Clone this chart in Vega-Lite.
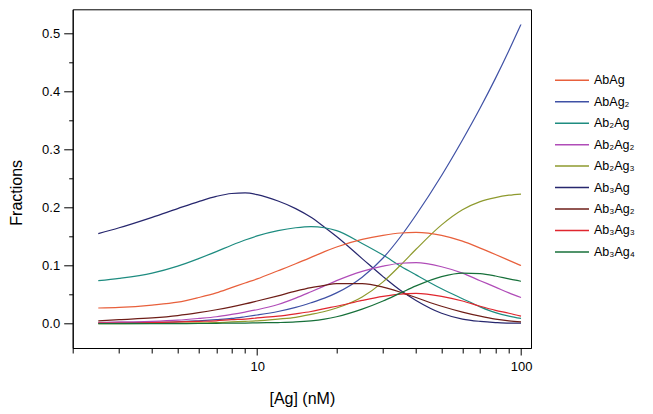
{
"$schema": "https://vega.github.io/schema/vega-lite/v6.json",
"width": 458.3, "height": 338.7,
"autosize": "none",
"padding": {"left": 72.7, "top": 9.3, "right": 122, "bottom": 66},
"background": "white",
"config": {
 "font": "Liberation Sans",
 "view": {"stroke": "black", "strokeWidth": 1},
 "axis": {"domainColor": "black", "tickColor": "black", "labelColor": "black", "titleColor": "black", "grid": false, "labelFontSize": 13, "titleFontSize": 16, "titleFontWeight": "normal", "domainWidth": 1, "tickWidth": 1}
},
"data": {"values": [
{"s":"Ab₃Ag","x":2.5,"y":0.155},{"s":"Ab₃Ag","x":3,"y":0.165},{"s":"Ab₃Ag","x":4,"y":0.183},{"s":"Ab₃Ag","x":5,"y":0.198},{"s":"Ab₃Ag","x":6,"y":0.210},{"s":"Ab₃Ag","x":7,"y":0.219},{"s":"Ab₃Ag","x":8,"y":0.224},{"s":"Ab₃Ag","x":9,"y":0.225},{"s":"Ab₃Ag","x":10,"y":0.222},{"s":"Ab₃Ag","x":12,"y":0.211},{"s":"Ab₃Ag","x":14,"y":0.198},{"s":"Ab₃Ag","x":16,"y":0.183},{"s":"Ab₃Ag","x":18,"y":0.166},{"s":"Ab₃Ag","x":20,"y":0.150},{"s":"Ab₃Ag","x":25,"y":0.112},{"s":"Ab₃Ag","x":30,"y":0.081},{"s":"Ab₃Ag","x":35,"y":0.057},{"s":"Ab₃Ag","x":40,"y":0.040},{"s":"Ab₃Ag","x":50,"y":0.018},{"s":"Ab₃Ag","x":60,"y":0.008},{"s":"Ab₃Ag","x":70,"y":0.004},{"s":"Ab₃Ag","x":80,"y":0.002},{"s":"Ab₃Ag","x":90,"y":0.001},{"s":"Ab₃Ag","x":100,"y":0.001},
{"s":"Ab₂Ag","x":2.5,"y":0.074},{"s":"Ab₂Ag","x":3,"y":0.078},{"s":"Ab₂Ag","x":4,"y":0.087},{"s":"Ab₂Ag","x":5,"y":0.099},{"s":"Ab₂Ag","x":6,"y":0.112},{"s":"Ab₂Ag","x":7,"y":0.124},{"s":"Ab₂Ag","x":8,"y":0.135},{"s":"Ab₂Ag","x":9,"y":0.144},{"s":"Ab₂Ag","x":10,"y":0.151},{"s":"Ab₂Ag","x":12,"y":0.160},{"s":"Ab₂Ag","x":14,"y":0.165},{"s":"Ab₂Ag","x":16,"y":0.167},{"s":"Ab₂Ag","x":18,"y":0.165},{"s":"Ab₂Ag","x":20,"y":0.160},{"s":"Ab₂Ag","x":25,"y":0.138},{"s":"Ab₂Ag","x":30,"y":0.118},{"s":"Ab₂Ag","x":35,"y":0.099},{"s":"Ab₂Ag","x":40,"y":0.084},{"s":"Ab₂Ag","x":50,"y":0.060},{"s":"Ab₂Ag","x":60,"y":0.043},{"s":"Ab₂Ag","x":70,"y":0.029},{"s":"Ab₂Ag","x":80,"y":0.019},{"s":"Ab₂Ag","x":90,"y":0.013},{"s":"Ab₂Ag","x":100,"y":0.009},
{"s":"AbAg₂","x":2.5,"y":0.001},{"s":"AbAg₂","x":3,"y":0.0015},{"s":"AbAg₂","x":4,"y":0.002},{"s":"AbAg₂","x":5,"y":0.003},{"s":"AbAg₂","x":6,"y":0.005},{"s":"AbAg₂","x":7,"y":0.007},{"s":"AbAg₂","x":8,"y":0.009},{"s":"AbAg₂","x":9,"y":0.012},{"s":"AbAg₂","x":10,"y":0.015},{"s":"AbAg₂","x":12,"y":0.021},{"s":"AbAg₂","x":14,"y":0.028},{"s":"AbAg₂","x":16,"y":0.036},{"s":"AbAg₂","x":18,"y":0.044},{"s":"AbAg₂","x":20,"y":0.053},{"s":"AbAg₂","x":25,"y":0.080},{"s":"AbAg₂","x":30,"y":0.113},{"s":"AbAg₂","x":35,"y":0.150},{"s":"AbAg₂","x":40,"y":0.187},{"s":"AbAg₂","x":50,"y":0.255},{"s":"AbAg₂","x":60,"y":0.316},{"s":"AbAg₂","x":70,"y":0.371},{"s":"AbAg₂","x":80,"y":0.422},{"s":"AbAg₂","x":90,"y":0.470},{"s":"AbAg₂","x":100,"y":0.515},
{"s":"Ab₂Ag₃","x":2.5,"y":0.0},{"s":"Ab₂Ag₃","x":3,"y":0.0},{"s":"Ab₂Ag₃","x":4,"y":0.0005},{"s":"Ab₂Ag₃","x":5,"y":0.001},{"s":"Ab₂Ag₃","x":6,"y":0.0015},{"s":"Ab₂Ag₃","x":7,"y":0.002},{"s":"Ab₂Ag₃","x":8,"y":0.003},{"s":"Ab₂Ag₃","x":9,"y":0.004},{"s":"Ab₂Ag₃","x":10,"y":0.005},{"s":"Ab₂Ag₃","x":12,"y":0.008},{"s":"Ab₂Ag₃","x":14,"y":0.011},{"s":"Ab₂Ag₃","x":16,"y":0.016},{"s":"Ab₂Ag₃","x":18,"y":0.021},{"s":"Ab₂Ag₃","x":20,"y":0.027},{"s":"Ab₂Ag₃","x":25,"y":0.046},{"s":"Ab₂Ag₃","x":30,"y":0.072},{"s":"Ab₂Ag₃","x":35,"y":0.101},{"s":"Ab₂Ag₃","x":40,"y":0.128},{"s":"Ab₂Ag₃","x":50,"y":0.170},{"s":"Ab₂Ag₃","x":60,"y":0.196},{"s":"Ab₂Ag₃","x":70,"y":0.210},{"s":"Ab₂Ag₃","x":80,"y":0.217},{"s":"Ab₂Ag₃","x":90,"y":0.221},{"s":"Ab₂Ag₃","x":100,"y":0.223},
{"s":"AbAg","x":2.5,"y":0.027},{"s":"AbAg","x":3,"y":0.028},{"s":"AbAg","x":4,"y":0.032},{"s":"AbAg","x":5,"y":0.037},{"s":"AbAg","x":6,"y":0.045},{"s":"AbAg","x":7,"y":0.053},{"s":"AbAg","x":8,"y":0.062},{"s":"AbAg","x":9,"y":0.070},{"s":"AbAg","x":10,"y":0.077},{"s":"AbAg","x":12,"y":0.091},{"s":"AbAg","x":14,"y":0.103},{"s":"AbAg","x":16,"y":0.114},{"s":"AbAg","x":18,"y":0.124},{"s":"AbAg","x":20,"y":0.132},{"s":"AbAg","x":25,"y":0.145},{"s":"AbAg","x":30,"y":0.152},{"s":"AbAg","x":35,"y":0.156},{"s":"AbAg","x":40,"y":0.157},{"s":"AbAg","x":50,"y":0.152},{"s":"AbAg","x":60,"y":0.142},{"s":"AbAg","x":70,"y":0.130},{"s":"AbAg","x":80,"y":0.119},{"s":"AbAg","x":90,"y":0.109},{"s":"AbAg","x":100,"y":0.100},
{"s":"Ab₂Ag₂","x":2.5,"y":0.002},{"s":"Ab₂Ag₂","x":3,"y":0.003},{"s":"Ab₂Ag₂","x":4,"y":0.004},{"s":"Ab₂Ag₂","x":5,"y":0.006},{"s":"Ab₂Ag₂","x":6,"y":0.009},{"s":"Ab₂Ag₂","x":7,"y":0.012},{"s":"Ab₂Ag₂","x":8,"y":0.016},{"s":"Ab₂Ag₂","x":9,"y":0.020},{"s":"Ab₂Ag₂","x":10,"y":0.024},{"s":"Ab₂Ag₂","x":12,"y":0.033},{"s":"Ab₂Ag₂","x":14,"y":0.044},{"s":"Ab₂Ag₂","x":16,"y":0.055},{"s":"Ab₂Ag₂","x":18,"y":0.065},{"s":"Ab₂Ag₂","x":20,"y":0.074},{"s":"Ab₂Ag₂","x":25,"y":0.090},{"s":"Ab₂Ag₂","x":30,"y":0.099},{"s":"Ab₂Ag₂","x":35,"y":0.104},{"s":"Ab₂Ag₂","x":40,"y":0.105},{"s":"Ab₂Ag₂","x":50,"y":0.098},{"s":"Ab₂Ag₂","x":60,"y":0.087},{"s":"Ab₂Ag₂","x":70,"y":0.074},{"s":"Ab₂Ag₂","x":80,"y":0.063},{"s":"Ab₂Ag₂","x":90,"y":0.053},{"s":"Ab₂Ag₂","x":100,"y":0.045},
{"s":"Ab₃Ag₂","x":2.5,"y":0.005},{"s":"Ab₃Ag₂","x":3,"y":0.007},{"s":"Ab₃Ag₂","x":4,"y":0.010},{"s":"Ab₃Ag₂","x":5,"y":0.014},{"s":"Ab₃Ag₂","x":6,"y":0.019},{"s":"Ab₃Ag₂","x":7,"y":0.024},{"s":"Ab₃Ag₂","x":8,"y":0.029},{"s":"Ab₃Ag₂","x":9,"y":0.034},{"s":"Ab₃Ag₂","x":10,"y":0.039},{"s":"Ab₃Ag₂","x":12,"y":0.048},{"s":"Ab₃Ag₂","x":14,"y":0.056},{"s":"Ab₃Ag₂","x":16,"y":0.062},{"s":"Ab₃Ag₂","x":18,"y":0.066},{"s":"Ab₃Ag₂","x":20,"y":0.069},{"s":"Ab₃Ag₂","x":25,"y":0.069},{"s":"Ab₃Ag₂","x":30,"y":0.063},{"s":"Ab₃Ag₂","x":35,"y":0.054},{"s":"Ab₃Ag₂","x":40,"y":0.045},{"s":"Ab₃Ag₂","x":50,"y":0.030},{"s":"Ab₃Ag₂","x":60,"y":0.020},{"s":"Ab₃Ag₂","x":70,"y":0.013},{"s":"Ab₃Ag₂","x":80,"y":0.008},{"s":"Ab₃Ag₂","x":90,"y":0.005},{"s":"Ab₃Ag₂","x":100,"y":0.003},
{"s":"Ab₃Ag₃","x":2.5,"y":0.001},{"s":"Ab₃Ag₃","x":3,"y":0.001},{"s":"Ab₃Ag₃","x":4,"y":0.002},{"s":"Ab₃Ag₃","x":5,"y":0.003},{"s":"Ab₃Ag₃","x":6,"y":0.004},{"s":"Ab₃Ag₃","x":7,"y":0.005},{"s":"Ab₃Ag₃","x":8,"y":0.007},{"s":"Ab₃Ag₃","x":9,"y":0.008},{"s":"Ab₃Ag₃","x":10,"y":0.010},{"s":"Ab₃Ag₃","x":12,"y":0.013},{"s":"Ab₃Ag₃","x":14,"y":0.017},{"s":"Ab₃Ag₃","x":16,"y":0.021},{"s":"Ab₃Ag₃","x":18,"y":0.026},{"s":"Ab₃Ag₃","x":20,"y":0.030},{"s":"Ab₃Ag₃","x":25,"y":0.040},{"s":"Ab₃Ag₃","x":30,"y":0.047},{"s":"Ab₃Ag₃","x":35,"y":0.051},{"s":"Ab₃Ag₃","x":40,"y":0.052},{"s":"Ab₃Ag₃","x":50,"y":0.047},{"s":"Ab₃Ag₃","x":60,"y":0.039},{"s":"Ab₃Ag₃","x":70,"y":0.030},{"s":"Ab₃Ag₃","x":80,"y":0.023},{"s":"Ab₃Ag₃","x":90,"y":0.018},{"s":"Ab₃Ag₃","x":100,"y":0.013},
{"s":"Ab₃Ag₄","x":2.5,"y":0.0},{"s":"Ab₃Ag₄","x":3,"y":0.0},{"s":"Ab₃Ag₄","x":4,"y":0.0},{"s":"Ab₃Ag₄","x":5,"y":0.0},{"s":"Ab₃Ag₄","x":6,"y":0.0003},{"s":"Ab₃Ag₄","x":7,"y":0.0005},{"s":"Ab₃Ag₄","x":8,"y":0.001},{"s":"Ab₃Ag₄","x":9,"y":0.001},{"s":"Ab₃Ag₄","x":10,"y":0.0015},{"s":"Ab₃Ag₄","x":12,"y":0.002},{"s":"Ab₃Ag₄","x":14,"y":0.003},{"s":"Ab₃Ag₄","x":16,"y":0.005},{"s":"Ab₃Ag₄","x":18,"y":0.008},{"s":"Ab₃Ag₄","x":20,"y":0.012},{"s":"Ab₃Ag₄","x":25,"y":0.025},{"s":"Ab₃Ag₄","x":30,"y":0.039},{"s":"Ab₃Ag₄","x":35,"y":0.053},{"s":"Ab₃Ag₄","x":40,"y":0.065},{"s":"Ab₃Ag₄","x":50,"y":0.081},{"s":"Ab₃Ag₄","x":60,"y":0.087},{"s":"Ab₃Ag₄","x":70,"y":0.086},{"s":"Ab₃Ag₄","x":80,"y":0.082},{"s":"Ab₃Ag₄","x":90,"y":0.077},{"s":"Ab₃Ag₄","x":100,"y":0.073}
]},
"layer": [
 {
  "mark": {"type": "line", "interpolate": "monotone", "strokeWidth": 1.2},
  "encoding": {
   "x": {"field": "x", "type": "quantitative", "scale": {"type": "log", "domain": [2, 109.1], "nice": false},
     "axis": {"values": [10, 100], "format": "d", "tickSize": 7, "labelPadding": 5, "title": "[Ag] (nM)", "titleY": 50, "titleBaseline": "middle"}},
   "y": {"field": "y", "type": "quantitative", "scale": {"domain": [-0.0418, 0.5408], "nice": false, "zero": false},
     "axis": {"values": [0, 0.1, 0.2, 0.3, 0.4, 0.5], "format": ".1f", "tickSize": 9, "labelPadding": 4, "title": "Fractions", "titleX": -56, "titleY": 183, "titleAlign": "center", "titleBaseline": "middle"}},
   "color": {"field": "s", "type": "nominal",
     "scale": {"domain": ["AbAg", "AbAg₂", "Ab₂Ag", "Ab₂Ag₂", "Ab₂Ag₃", "Ab₃Ag", "Ab₃Ag₂", "Ab₃Ag₃", "Ab₃Ag₄"],
       "range": ["#E8603C", "#3F51A5", "#1E8C80", "#B04CB8", "#8E9A2E", "#27276E", "#6E1E18", "#E0262E", "#17703A"]},
     "legend": {"orient": "none", "legendX": 481.3, "legendY": 63, "title": null, "symbolType": "stroke", "symbolSize": 1156, "symbolStrokeWidth": 1.5, "labelFontSize": 12.5, "labelOffset": 4, "rowPadding": 5.45, "clipHeight": 16, "padding": 0, "labelColor": "black"}}
  }
 },
 {
  "mark": {"type": "line", "strokeOpacity": 0},
  "encoding": {
   "x": {"field": "x", "type": "quantitative", "scale": {"type": "log", "domain": [2, 109.1], "nice": false},
     "axis": {"orient": "bottom", "values": [2,3,4,5,6,7,8,9,20,30,40,50,60,70,80,90], "tickSize": 5, "labels": false, "domain": false, "title": null}},
   "y": {"field": "y", "type": "quantitative", "scale": {"domain": [-0.0418, 0.5408], "nice": false, "zero": false},
     "axis": {"orient": "left", "values": [0.05, 0.15, 0.25, 0.35, 0.45], "tickSize": 4, "labels": false, "domain": false, "title": null}},
   "detail": {"field": "s", "type": "nominal"}
  }
 }
],
"resolve": {"scale": {"x": "independent", "y": "independent"}, "axis": {"x": "independent", "y": "independent"}}
}
